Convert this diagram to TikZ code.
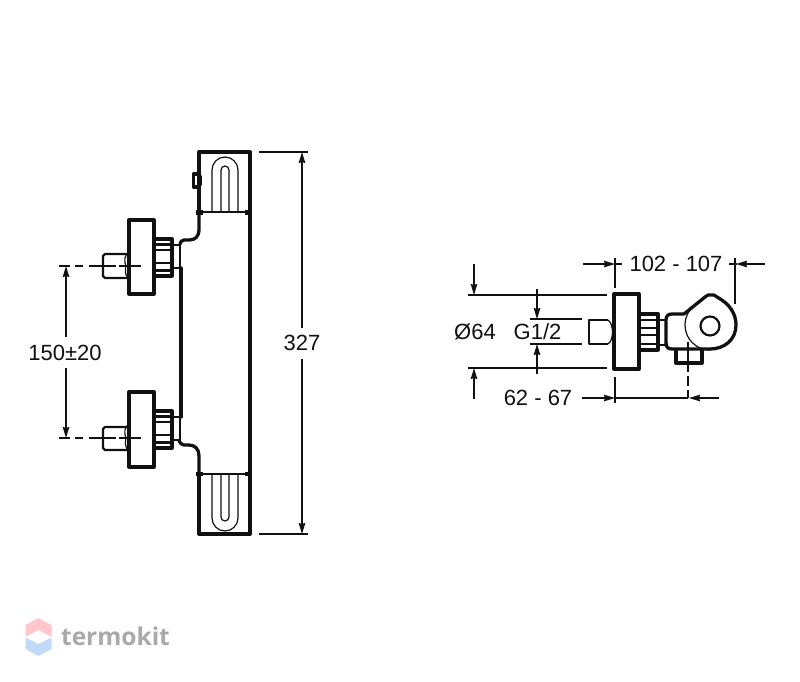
\documentclass[tikz,border=0pt]{standalone}
\usepackage{fontspec}
\setmainfont{Liberation Sans}
\newfontfamily\wmfont{Open Sans}
\usetikzlibrary{arrows.meta}
\definecolor{ink}{HTML}{111111}
\definecolor{wmgrey}{HTML}{A9A9A9}
\definecolor{wmpink}{HTML}{FFC6CC}
\definecolor{wmblue}{HTML}{C2DAF9}
\tikzset{
  heavy/.style={draw=ink,line width=3.3pt,line join=round,line cap=round},
  medium/.style={draw=ink,line width=2.2pt,line join=round},
  thin part/.style={draw=ink,line width=1.2pt,line join=round},
  dimline/.style={draw=ink,line width=1.2pt},
  dimarrow/.style={draw=ink,line width=1.2pt,-{Stealth[length=11pt,width=6.5pt,inset=1pt]}},
  centre/.style={draw=ink,line width=1.4pt},
  dimtext/.style={text=ink,font=\fontsize{22}{25}\selectfont,inner sep=0pt,anchor=center},
  wmtext/.style={text=wmgrey,font=\wmfont\bfseries\fontsize{24.5}{28}\selectfont,inner sep=0pt,anchor=center}
}
\begin{document}
\begin{tikzpicture}[x=1pt,y=-1pt]
\useasboundingbox[fill=white] (0,0) rectangle (800,681);

% ---- front view: body
\draw[heavy] (181,268) -- (181,417);
\draw[heavy] (250,152) -- (250,534);
\draw[heavy] (199,212) -- (199,152) -- (250,152);
\draw[heavy] (199,534) -- (250,534);
\draw[heavy] (199,534) -- (199,474);
\draw[medium] (199,212) -- (250,212);
\draw[medium] (199,474) -- (250,474);
\fill[ink] (196,210) rectangle (203,214.5);
\fill[ink] (245,210) rectangle (252,214.5);
\fill[ink] (196,471.5) rectangle (203,476);
\fill[ink] (245,471.5) rectangle (252,476);
\draw[heavy] (199,212) -- (199,229) .. controls (199,237) and (195,240) .. (189,240) -- (184,240) .. controls (182,240) and (180,242) .. (180,244);
\draw[heavy] (199,474) -- (199,456) .. controls (199,449) and (195,445) .. (189,445) -- (184,445) .. controls (182,445) and (180,443) .. (179,441);
% bump
\draw[heavy] (199,174) -- (193.5,174) -- (193.5,187) -- (199,187);
\draw[thin part] (199,176) -- (201,176) -- (201,185) -- (199,185);
% top U
\draw[thin part] (212,212) -- (212,170) arc[start angle=180,end angle=360,radius=13] -- (238,212);
\draw[thin part] (221,212) -- (221,170) arc[start angle=180,end angle=360,radius=4] -- (229,212);
% bottom U
\draw[thin part] (212,474) -- (212,518) arc[start angle=180,end angle=0,radius=13] -- (238,474);
\draw[thin part] (221,474) -- (221,517) arc[start angle=180,end angle=0,radius=4] -- (229,474);

% upper connection
\draw[heavy] (129,220) rectangle (154,294);
\draw[heavy] (154,239) -- (172,239) -- (172,276) -- (154,276);
\draw[medium] (154,244.5) -- (172,244.5);
\draw[thin part] (155,250) -- (170,250) (155,263) -- (170,263);
\draw[medium] (154,270.5) -- (172,270.5);
\draw[medium] (172,245) -- (181,245);
\draw[medium] (172,268) -- (181,268);
\draw[thin part] (180,245) -- (180,268);
\draw[medium] (127,254) -- (105,254) -- (103,256) -- (103,276) -- (105,278) -- (127,278);
\draw[thin part] (129,252) .. controls (124,255) and (124,262) .. (126,266) .. controls (125,270) and (125,275) .. (128,278);
\draw[centre] (59,266) -- (70,266) (75,266) -- (83,266) (89,266) -- (116,266) (119,266) -- (141,266);

% lower connection
\draw[heavy] (129,392) rectangle (154,467);
\draw[heavy] (154,411) -- (172,411) -- (172,448) -- (154,448);
\draw[medium] (154,416.5) -- (172,416.5);
\draw[thin part] (155,422) -- (170,422) (155,435) -- (170,435);
\draw[medium] (154,442.5) -- (172,442.5);
\draw[medium] (172,417) -- (181,417);
\draw[medium] (172,440) -- (181,440);
\draw[thin part] (180,417) -- (180,440);
\draw[medium] (127,427) -- (105,427) -- (103,429) -- (103,448) -- (105,450) -- (127,450);
\draw[thin part] (129,424) .. controls (124,427) and (124,434) .. (126,438) .. controls (125,442) and (125,447) .. (128,450);
\draw[centre] (59,438) -- (70,438) (75,438) -- (83,438) (89,438) -- (116,438) (119,438) -- (141,438);

% front view dimensions
\draw[dimarrow] (66,337) -- (66,266);
\draw[dimarrow] (66,368) -- (66,438);
\draw[dimline] (259,152) -- (308,152);
\draw[dimline] (259,534) -- (308,534);
\draw[dimarrow] (302,328) -- (302,152);
\draw[dimarrow] (302,359) -- (302,534);
\node[dimtext] (spacing) at (65,353) {150±20};
\node[dimtext] (height) at (302,343) {327};

% ---- side view
\draw[heavy] (614,294) rectangle (639,369);
\draw[heavy] (639,314) -- (658,314) -- (658,350) -- (639,350);
\draw[medium] (639,320) -- (658,320) (639,344) -- (658,344);
\draw[thin part] (640,328) -- (657,328) (640,335) -- (657,335);
\draw[medium] (658,320) -- (666,320) (658,345) -- (666,345);
\draw[heavy] (666,343) -- (666,320) .. controls (666,316) and (668,314) .. (672,314) -- (684,314);
\draw[heavy] (666,343) .. controls (666,347) and (668,349) .. (672,349) -- (700,349);
\draw[heavy] (684,314) -- (705,297) -- (708,295) -- (714,295) -- (717,297) .. controls (730,304) and (736,314) .. (736,325) .. controls (736,340) and (724,349) .. (710,349) -- (700,349);
\draw[thin part] (710,350) arc[start angle=90,end angle=240,radius=25];
\draw[medium] (710,326) circle[radius=9.5];
\draw[heavy] (676,351) -- (676,363) -- (702,363) -- (702,351);
\draw[centre] (688,342) -- (688,372) (688,376) -- (688,386) (688,390) -- (688,398);
% stud
\draw[medium] (608,320) -- (589,320) -- (589,344) -- (608,344);
\draw[thin part] (608,320) .. controls (614,324) and (614,340) .. (608,344);

% side view dimensions
\draw[dimline] (615,258) -- (615,288);
\draw[dimline] (615,264) -- (622,264);
\draw[dimarrow] (583,264) -- (615,264);
\node[dimtext] (reach) at (676,264) {102 - 107};
\draw[dimline] (735,258) -- (735,304);
\draw[dimline] (729,264) -- (737,264);
\draw[dimarrow] (765,264) -- (736,264);

\draw[dimline] (468,295) -- (607,295);
\draw[dimline] (468,368) -- (607,368);
\draw[dimarrow] (474,264) -- (474,295);
\draw[dimarrow] (474,399) -- (474,368);
\node[dimtext] (diam) at (475,332) {Ø64};

\draw[dimline] (530,319) -- (582,319);
\draw[dimline] (530,344) -- (582,344);
\draw[dimarrow] (537,289) -- (537,319);
\draw[dimarrow] (537,374) -- (537,344);
\node[dimtext] (thread) at (537.5,332) {G1/2};

\draw[dimline] (615,377) -- (615,403);
\draw[dimline] (615,398) -- (688,398);
\draw[dimarrow] (582,398) -- (615,398);
\draw[dimarrow] (719,398) -- (689,398);
\node[dimtext] (offset) at (538,398) {62 - 67};

% ---- watermark
\fill[wmpink] (38.5,618) -- (51.5,625) -- (51.5,637) -- (38.5,630) -- (25.5,637) -- (25.5,625) -- cycle;
\fill[wmblue] (38.5,644) -- (51.5,637.5) -- (51.5,649) -- (38.5,656) -- (25.5,649) -- (25.5,637.5) -- cycle;
\node[wmtext] (mark) at (115.5,636) {termokit};
\end{tikzpicture}
\end{document}
